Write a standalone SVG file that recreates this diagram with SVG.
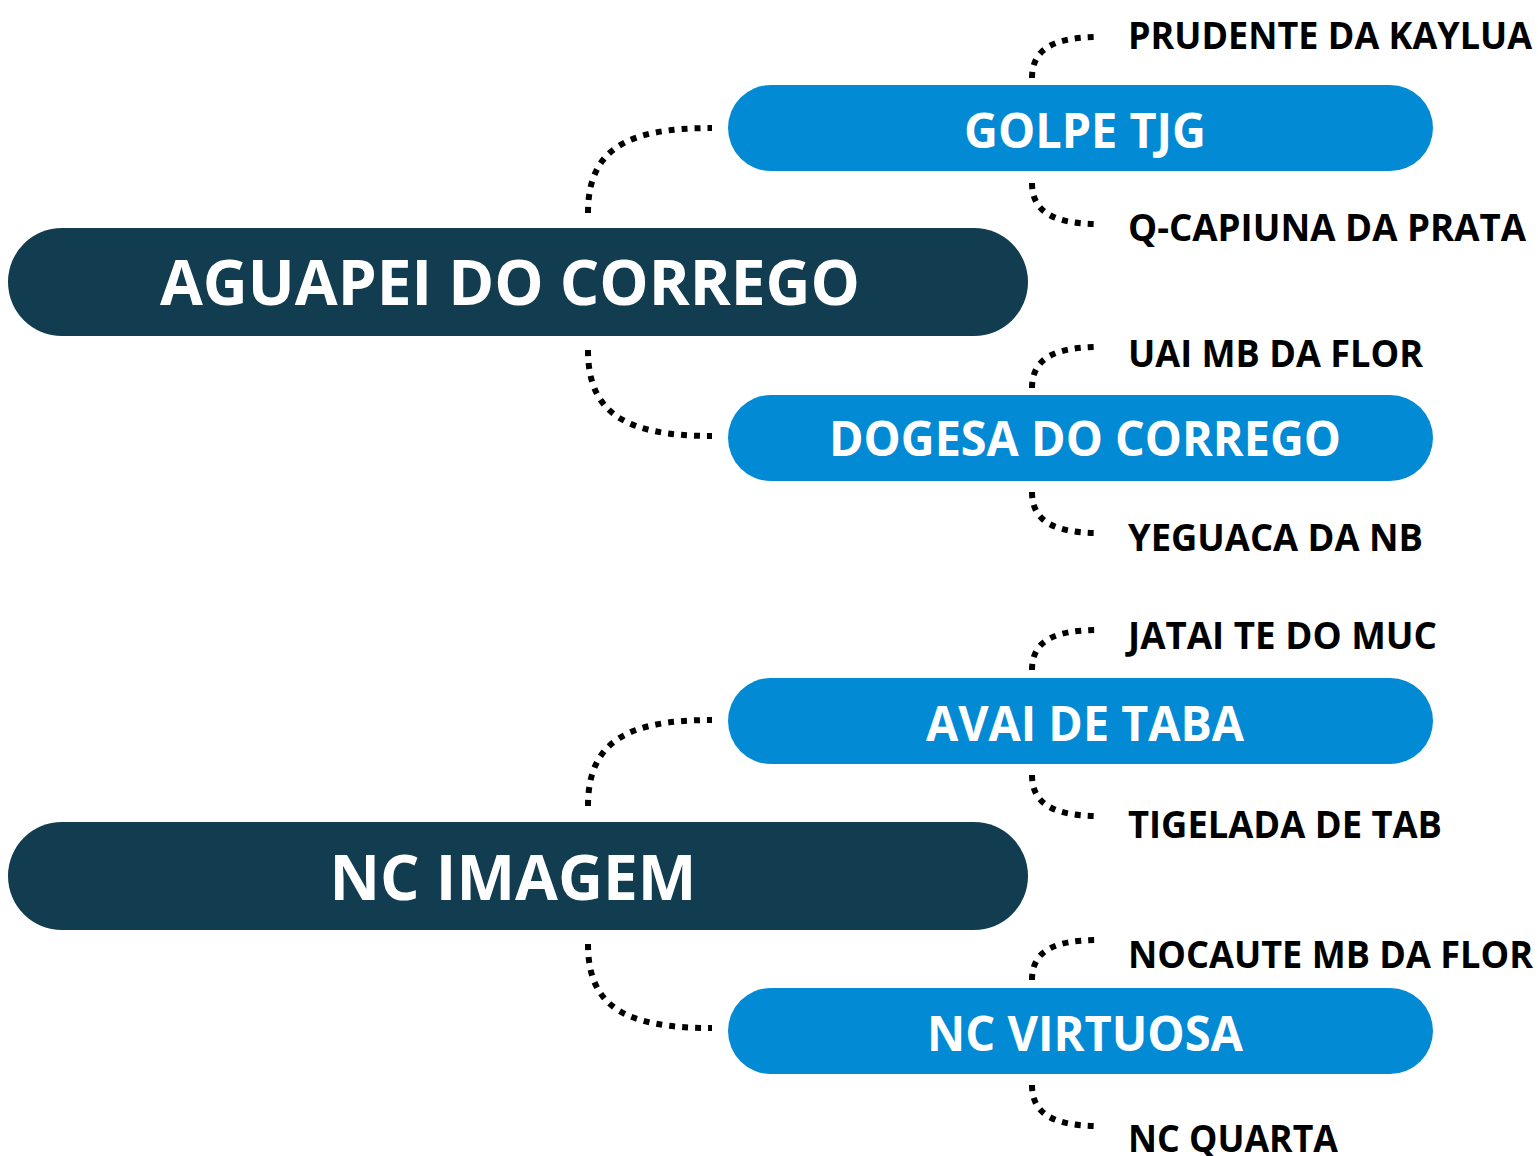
<svg xmlns="http://www.w3.org/2000/svg" width="1538" height="1156" viewBox="0 0 1538 1156">
<style>
.main rect{fill:#123c50}
.sub rect{fill:#038ad4}
.main text{font-family:"Open Sans","Noto Sans",sans-serif;font-weight:bold;font-size:62px;fill:#fff;text-anchor:middle}
.sub text{font-family:"Open Sans","Noto Sans",sans-serif;font-weight:bold;font-size:48px;fill:#fff;text-anchor:middle}
.leaf text{font-family:"Open Sans","Noto Sans",sans-serif;font-weight:bold;font-size:37px;fill:#000}
#connectors path{fill:none;stroke:#000;stroke-width:6;stroke-dasharray:6 7}
</style>
<rect width="1538" height="1156" fill="#fff"/>
<g id="connectors">
<path d="M588,213 C588,150 625,128 712,128"/>
<path d="M588,350 C588,413 625,436 712,436"/>
<path d="M588,806 C588,743 625,720 712,720"/>
<path d="M588,944 C588,1007 625,1028 712,1028"/>
<path d="M1032,78 C1032,48 1055,37 1100,37"/>
<path d="M1032,183 C1032,213 1055,224 1100,224"/>
<path d="M1032,388 C1032,358 1055,347 1100,347"/>
<path d="M1032,492 C1032,522 1055,533 1100,533"/>
<path d="M1032,670 C1032,640 1055,630 1100,630"/>
<path d="M1032,775 C1032,805 1055,816 1100,816"/>
<path d="M1032,980 C1032,950 1055,940 1100,940"/>
<path d="M1032,1085 C1032,1115 1055,1126 1100,1126"/>
</g>
<g id="n-aguapei" class="main"><rect x="8" y="228" width="1020" height="108" rx="54"/><text x="510" y="305" textLength="700" lengthAdjust="spacingAndGlyphs">AGUAPEI DO CORREGO</text></g>
<g id="n-ncimagem" class="main"><rect x="8" y="822" width="1020" height="108" rx="54"/><text x="513" y="900" textLength="367" lengthAdjust="spacingAndGlyphs">NC IMAGEM</text></g>
<g id="n-golpe" class="sub"><rect x="728" y="85" width="705" height="86" rx="43"/><text x="1085" y="148" textLength="242" lengthAdjust="spacingAndGlyphs">GOLPE TJG</text></g>
<g id="n-dogesa" class="sub"><rect x="728" y="395" width="705" height="86" rx="43"/><text x="1085" y="456" textLength="512" lengthAdjust="spacingAndGlyphs">DOGESA DO CORREGO</text></g>
<g id="n-avai" class="sub"><rect x="728" y="678" width="705" height="86" rx="43"/><text x="1085" y="741" textLength="318" lengthAdjust="spacingAndGlyphs">AVAI DE TABA</text></g>
<g id="n-virtuosa" class="sub"><rect x="728" y="988" width="705" height="86" rx="43"/><text x="1085" y="1051" textLength="316" lengthAdjust="spacingAndGlyphs">NC VIRTUOSA</text></g>
<g id="l-prudente" class="leaf"><text x="1128" y="49" textLength="404" lengthAdjust="spacingAndGlyphs">PRUDENTE DA KAYLUA</text></g>
<g id="l-qcapiuna" class="leaf"><text x="1128" y="241" textLength="398" lengthAdjust="spacingAndGlyphs">Q-CAPIUNA DA PRATA</text></g>
<g id="l-uai" class="leaf"><text x="1128" y="367" textLength="295" lengthAdjust="spacingAndGlyphs">UAI MB DA FLOR</text></g>
<g id="l-yeguaca" class="leaf"><text x="1128" y="551" textLength="295" lengthAdjust="spacingAndGlyphs">YEGUACA DA NB</text></g>
<g id="l-jatai" class="leaf"><text x="1128" y="649" textLength="309" lengthAdjust="spacingAndGlyphs">JATAI TE DO MUC</text></g>
<g id="l-tigelada" class="leaf"><text x="1128" y="838" textLength="314" lengthAdjust="spacingAndGlyphs">TIGELADA DE TAB</text></g>
<g id="l-nocaute" class="leaf"><text x="1128" y="968" textLength="405" lengthAdjust="spacingAndGlyphs">NOCAUTE MB DA FLOR</text></g>
<g id="l-ncquarta" class="leaf"><text x="1128" y="1152" textLength="210" lengthAdjust="spacingAndGlyphs">NC QUARTA</text></g>
</svg>
